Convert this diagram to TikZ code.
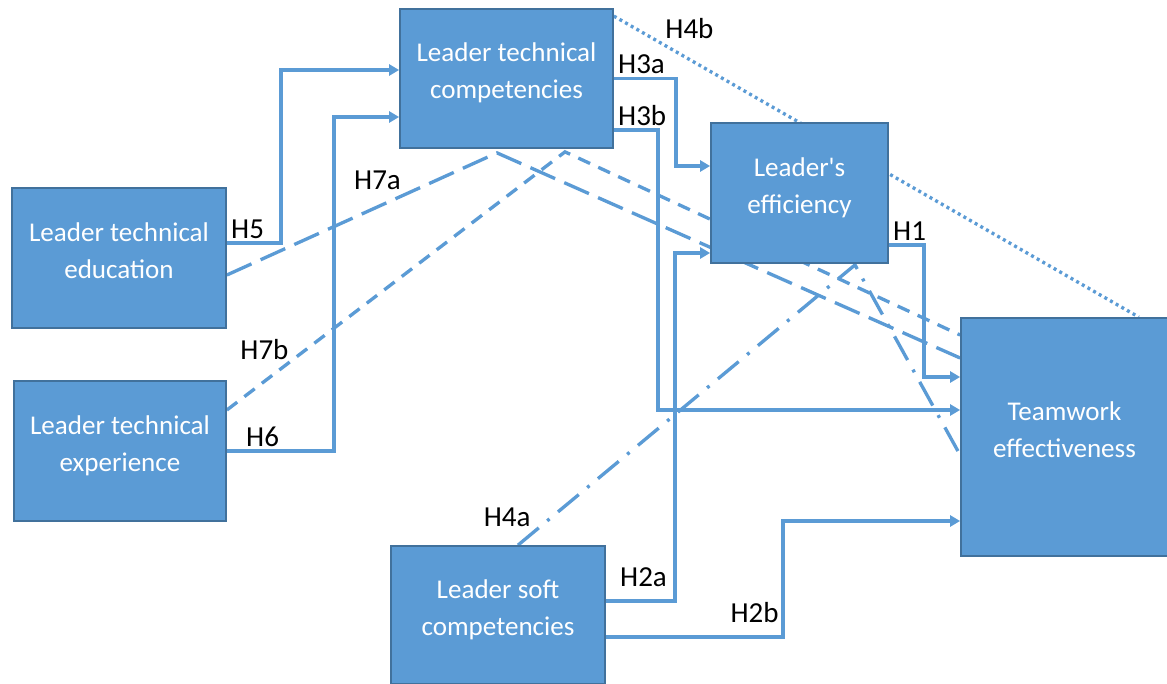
\documentclass[tikz,border=0pt]{standalone}
\usepackage{fontspec}
\setmainfont{Carlito}
\usepackage{tikz}
\usetikzlibrary{calc}
\usetikzlibrary{positioning}
\usetikzlibrary{arrows.meta}
\usetikzlibrary{backgrounds}
\definecolor{boxblue}{HTML}{5B9BD5}
\definecolor{boxline}{HTML}{41719C}

\begin{document}
\begin{tikzpicture}[style={align=center, font=\fontsize{15.4}{21}\selectfont},
	box/.style={draw=boxline, fill=boxblue, text=white, line width=1pt, minimum height=2.8cm, inner sep=0pt, text depth=0.3cm},
	link/.style={boxblue, line width=1.9pt, -{Triangle[length=2mm, width=2.2mm]}},
	hyp/.style={black, inner sep=1.5pt, font=\fontsize{16.5}{20}\selectfont},
	longdashes/.style={boxblue, line width=1.9pt, dash pattern=on 5.4mm off 2mm},
	shortdashes/.style={boxblue, line width=1.9pt, dash pattern=on 2.6mm off 1.8mm},
	dashdots/.style={boxblue, line width=1.9pt, dash pattern=on 5.4mm off 2.2mm on 0.6mm off 2.2mm},
	dotline/.style={boxblue, line width=1.9pt, dash pattern=on 0.6mm off 0.7mm}]
	\useasboundingbox (0,0) rectangle (23.34,-13.68);
	\node[box, minimum width=4.28cm] (edu) at (2.38,-5.16) {Leader technical\\education};
	\node[box, minimum width=4.24cm] (exp) at (2.40,-9.02) {Leader technical\\experience};
	\node[box, minimum width=4.26cm, minimum height=2.78cm] (ltc) at (10.13,-1.57) {Leader technical\\competencies};
	\node[box, minimum width=3.54cm] (eff) at (15.99,-3.86) {Leader\textquotesingle s\\efficiency};
	\node[box, minimum width=4.14cm, minimum height=4.76cm] (team) at (21.29,-8.74) {Teamwork\\effectiveness};
	\node[box, minimum width=4.28cm, minimum height=2.76cm] (soft) at (9.96,-12.30) {Leader soft\\competencies};
	\begin{scope}[on background layer]
	\draw[link] ([yshift=3mm]edu.east) node[hyp, above right] {H5} -- ++(1.08,0) |- ([yshift=1.7mm]ltc.west);
	\draw[link] (exp.east) node[hyp, above right, xshift=3mm] {H6} -- ++(2.14,0) |- ([yshift=-7.7mm]ltc.west);
	\draw[link] (ltc.east) node[hyp, above right] {H3a} -- ++(1.24,0) |- ([yshift=5.4mm]eff.west);
	\draw[link] ([yshift=-10.3mm]ltc.east) node[hyp, above right] {H3b} -- ++(0.88,0) |- ([yshift=5.4mm]team.west);
	\draw[link] ([yshift=-10.4mm]eff.east) node[hyp, above right] {H1} -- ++(0.70,0) |- ([yshift=12mm]team.west);
	\draw[link] ([yshift=2.8mm]soft.east) node[hyp, above right, xshift=2mm, yshift=2mm] {H2a} -- ++(1.38,0) |- ([yshift=-12mm]eff.west);
	\draw[link] ([yshift=-4.4mm]soft.east) -- ++(3.54,0) node[hyp, above left, yshift=2mm] {H2b} |- ([yshift=-16.8mm]team.west);
	\draw[longdashes] ([yshift=-3.4mm]edu.east) -- node[hyp, pos=0.66, above left] {H7a} ([xshift=-1.9mm, yshift=-0.8mm]ltc.south) -- ([yshift=15.8mm]team.west);
	\draw[shortdashes] ([yshift=8.2mm]exp.east) -- node[hyp, pos=0.18, above left, xshift=1mm] {H7b} ([xshift=11.7mm, yshift=-0.6mm]ltc.south) -- ([yshift=20.4mm]team.west);
	\draw[dashdots] ([xshift=4mm]soft.north) -- node[hyp, pos=0.05, above left] {H4a} ([xshift=11.1mm, yshift=-0.2mm]eff.south) -- ([yshift=-3.6mm]team.west);
	\draw[dotline] ([yshift=-1.6mm]ltc.north east) -- node[hyp, pos=0.09, above right] {H4b} ([xshift=-6mm]team.north east);
	\end{scope}
\end{tikzpicture}
\end{document}
